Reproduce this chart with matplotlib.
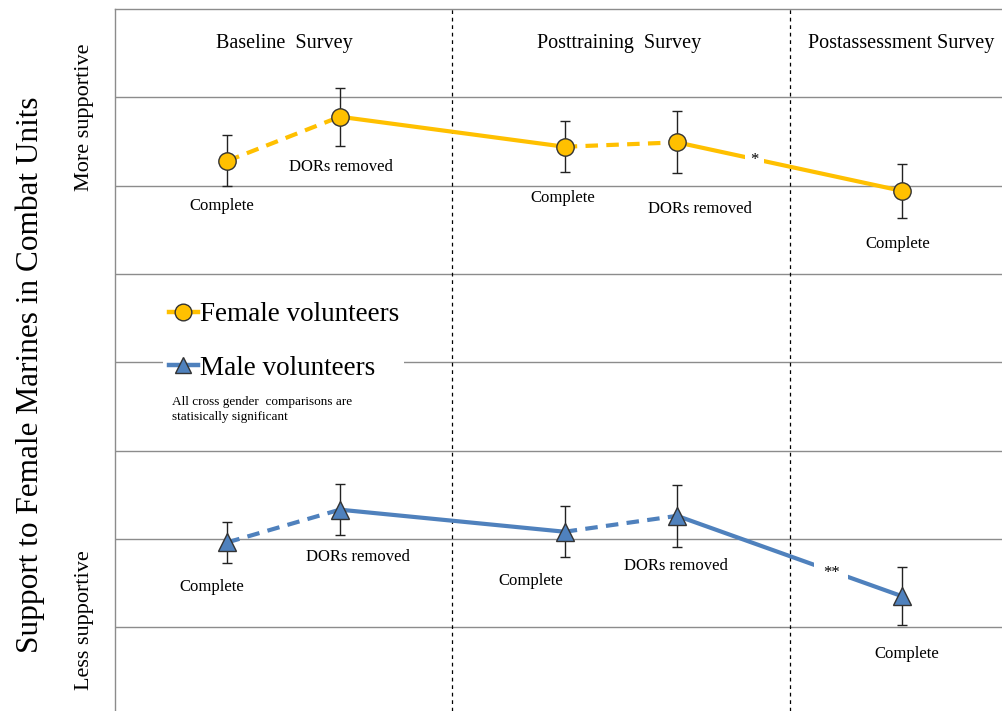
import matplotlib.pyplot as plt
from matplotlib.lines import Line2D

plt.rcParams['font.family'] = ['Liberation Serif', 'DejaVu Serif']

# stage positions along x (1,2 baseline; 4,5 posttraining; 7 postassessment)
stage_x = [1, 2, 4, 5, 7]
stage_labels = ["Complete", "DORs removed", "Complete", "DORs removed", "Complete"]

female_y = [6.28, 6.78, 6.44, 6.49, 5.94]
female_err = [0.29, 0.33, 0.29, 0.35, 0.31]
male_y = [1.96, 2.33, 2.08, 2.26, 1.35]
male_err = [0.23, 0.29, 0.29, 0.35, 0.33]

# where the point labels sit
female_lab_xy = [(0.95, 5.77), (2.01, 6.21), (3.98, 5.86), (5.20, 5.74), (6.96, 5.34)]
male_lab_xy = [(0.86, 1.45), (2.16, 1.79), (3.70, 1.52), (4.99, 1.69), (7.04, 0.70)]

sections = ["Baseline  Survey", "Posttraining  Survey", "Postassessment Survey"]
section_x = [1.51, 4.48, 6.16]
dividers = [3, 6]

female_col = "#FFC000"
male_col = "#4F81BD"

fig = plt.figure(figsize=(10.02, 7.11), dpi=100)
ax = fig.add_axes([115/1002, 0, 1 - 115/1002, 702/711])
ax.set_xlim(0, 7.89)
ax.set_ylim(0.05, 8)

for g in range(1, 8):
    ax.axhline(g, color="#8c8c8c", lw=1, zorder=0)
for d in dividers:
    ax.axvline(d, color="black", lw=0.9, ls=(0, (3, 3)), zorder=0)

def draw_series(ys, errs, col, marker, ms):
    # dashed inside a survey, solid between surveys
    for i in range(len(stage_x) - 1):
        style = "--" if i in (0, 2) else "-"
        ax.plot(stage_x[i:i+2], ys[i:i+2], color=col, lw=3, ls=style,
                dashes=(3, 2) if style == "--" else (None, None), zorder=2)
    ax.errorbar(stage_x, ys, yerr=errs, fmt="none", ecolor="#222222",
                elinewidth=1, capsize=3.5, capthick=1, zorder=3)
    ax.plot(stage_x, ys, ls="none", marker=marker, ms=ms, mfc=col,
            mec="#333333", mew=1, zorder=4)

draw_series(female_y, female_err, female_col, "o", 12.5)
draw_series(male_y, male_err, male_col, "^", 13)

for (x, y), t in zip(female_lab_xy, stage_labels):
    ax.text(x, y, t, ha="center", va="center", fontsize=12)
for (x, y), t in zip(male_lab_xy, stage_labels):
    ax.text(x, y, t, ha="center", va="center", fontsize=12)

# significance markers with a gap in the line behind them
ax.text(5.69, 6.29, "*", ha="center", va="center", fontsize=12, zorder=5,
        bbox=dict(facecolor="white", edgecolor="none", pad=4))
ax.text(6.37, 1.61, "**", ha="center", va="center", fontsize=12, zorder=5,
        bbox=dict(facecolor="white", edgecolor="none", pad=6))

for x, t in zip(section_x, sections):
    ha = "left" if x == section_x[-1] else "center"
    ax.text(x, 7.61, t, ha=ha, va="center", fontsize=14.5, clip_on=False)

handles = [
    Line2D([], [], color=female_col, lw=3.2, marker="o", ms=12, mfc=female_col, mec="#333333"),
    Line2D([], [], color=male_col, lw=3.2, marker="^", ms=12, mfc=male_col, mec="#333333"),
]
leg = ax.legend(handles, ["Female volunteers", "Male volunteers"], loc="upper left",
                bbox_to_anchor=(0.039, 0.609), fontsize=19.5, frameon=True,
                facecolor="white", edgecolor="none", framealpha=1, fancybox=False,
                handlelength=1.1, handletextpad=0.05, labelspacing=1.05, borderpad=0.2)
leg.set_zorder(6)

ax.text(0.51, 3.46, "All cross gender  comparisons are\nstatisically significant",
        ha="left", va="center", fontsize=9.5, linespacing=1.35)

ax.set_xticks([])
ax.set_yticks([])
for s in ["right", "bottom"]:
    ax.spines[s].set_visible(False)
for s in ["left", "top"]:
    ax.spines[s].set_color("#8c8c8c")
    ax.spines[s].set_linewidth(1)

fig.text(30/1002, 1 - 375/711, "Support to Female Marines in Combat Units", rotation=90,
         ha="center", va="center", fontsize=22.5)
fig.text(85/1002, 1 - 117/711, "More supportive", rotation=90, ha="center", va="center", fontsize=16)
fig.text(85/1002, 1 - 620/711, "Less supportive", rotation=90, ha="center", va="center", fontsize=16)

fig.savefig("out.png", dpi=100)
